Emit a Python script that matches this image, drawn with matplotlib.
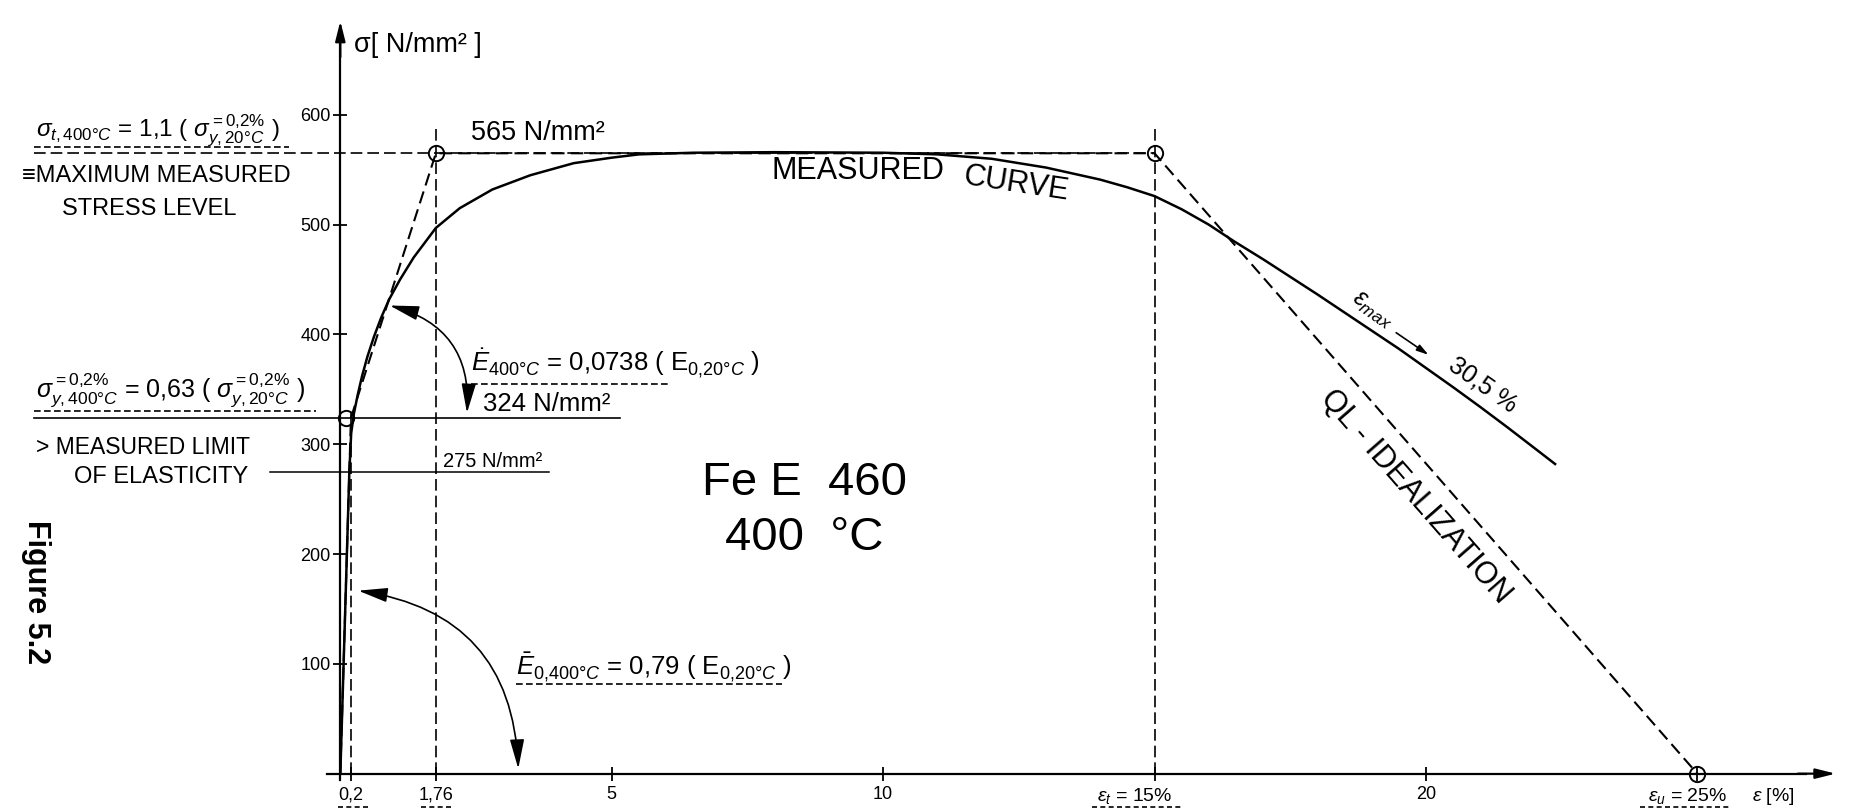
import numpy as np
import matplotlib
matplotlib.use("Agg")
import matplotlib.pyplot as plt
from matplotlib.patches import FancyArrowPatch
from matplotlib.transforms import ScaledTranslation

plt.rcParams['font.family'] = ['Liberation Sans', 'DejaVu Sans']
plt.rcParams['mathtext.fontset'] = 'custom'
plt.rcParams['mathtext.rm'] = 'Liberation Sans'
plt.rcParams['mathtext.it'] = 'Liberation Sans:italic'
plt.rcParams['mathtext.bf'] = 'Liberation Sans:bold'

# Measured stress-strain curve (strain in %, stress in N/mm2)
strain_meas = [0, 0.166, 0.2, 0.25, 0.32, 0.4, 0.5, 0.62, 0.75, 0.9, 1.1, 1.35, 1.76,
               2.2, 2.8, 3.5, 4.3, 5.0, 5.5, 6.5, 8.0, 10.0, 11.0, 12.0, 13.0, 14.0,
               14.5, 15.0, 15.5, 16.0, 16.46, 17.0, 17.5, 18.0, 18.5, 19.0, 19.5,
               20.0, 20.5, 21.0, 21.5, 22.0, 22.38]
stress_meas = [0, 275, 310, 328, 345, 362, 380, 398, 415, 432, 450, 470, 497,
               515, 532, 545, 556, 561, 564, 565.5, 566, 565.5, 564, 560, 552, 541,
               534, 526, 514, 500, 485, 468.5, 452.5, 436.5, 420, 403.5, 387,
               369.5, 352, 334, 315.5, 296.5, 282]

# QL idealization (dashed)
strain_ql = [0, 0.195, 1.76, 15, 25]
stress_ql = [0, 324, 565, 565, 0]

# marked points (open circles)
circle_strain = [0.1, 1.76, 15, 25]
circle_stress = [324, 565, 565, 0]

# dashed vertical reference lines
ref_strain = [0.2, 1.76, 15]
ref_top = [330, 592, 592]

stress_ticks = [100, 200, 300, 400, 500, 600]
strain_ticks = [0.2, 1.76, 5, 10, 15, 20, 25]
strain_ticklabels = ["0,2", "1,76", "5", "10", r"$\epsilon_t$ = 15%", "20", r"$\epsilon_u$ = 25%"]

fig = plt.figure(figsize=(18.52, 8.09), dpi=100)
ax = fig.add_axes([0, 0, 1, 1])
ax.set_xlim(-6.27, 27.85)
ax.set_ylim(-32.2, 704.6)

# axes through the origin
for s in ['top', 'right']:
    ax.spines[s].set_visible(False)
ax.spines['left'].set_position(('data', 0))
ax.spines['bottom'].set_position(('data', 0))
ax.spines['left'].set_bounds(-6, 670)
ax.spines['bottom'].set_bounds(-0.25, 27.0)
ax.spines['left'].set_linewidth(1.6)
ax.spines['bottom'].set_linewidth(1.6)
ax.set_yticks(stress_ticks)
ax.set_xticks(strain_ticks)
ax.set_xticklabels(strain_ticklabels)
ax.tick_params(axis='both', direction='inout', length=10, width=1.3, labelsize=13)
ax.tick_params(axis='y', pad=2)
ax.tick_params(axis='x', pad=4)
# nudge the two strain-limit labels a bit to the left, as in the original
xlabels = ax.get_xticklabels()
for lab, dx in [(xlabels[4], -0.2), (xlabels[6], -0.1)]:
    lab.set_fontsize(14)
    lab.set_transform(lab.get_transform() + ScaledTranslation(dx, 0, fig.dpi_scale_trans))

ax.annotate('', xy=(27.6, 0), xytext=(26.8, 0),
            arrowprops=dict(arrowstyle='-|>,head_length=1.2,head_width=0.3', color='k', lw=1.6))
ax.annotate('', xy=(0, 688), xytext=(0, 650),
            arrowprops=dict(arrowstyle='-|>,head_length=1.2,head_width=0.3', color='k', lw=1.6))

# curves
ax.plot(strain_meas, stress_meas, color='k', lw=1.8, solid_joinstyle='round')
ax.plot(strain_ql, stress_ql, color='k', lw=1.5, ls=(0, (6, 3)))
ax.plot(circle_strain, circle_stress, 'o', ms=11, mfc='none', mec='k', mew=1.4)
for xs, top in zip(ref_strain, ref_top):
    ax.plot([xs, xs], [0, top], color='k', lw=1.2, ls=(0, (7, 3)))

# horizontal reference lines
ax.plot([-5.65, 15], [565, 565], color='k', lw=1.2, ls=(0, (7, 3)))
ax.plot([-5.65, -0.95], [571, 571], color='k', lw=1.2, ls=(0, (4, 2)))
ax.plot([-5.65, 5.15], [324, 324], color='k', lw=1.2)
ax.plot([-5.65, -0.45], [330, 330], color='k', lw=1.2, ls=(0, (4, 2)))
ax.plot([-1.3, 3.85], [275, 275], color='k', lw=1.1)
ax.plot([2.4, 6.05], [355, 355], color='k', lw=1.2, ls=(0, (4, 2)))
ax.plot([3.24, 8.14], [82, 82], color='k', lw=1.2, ls=(0, (4, 2)))

# dashed underlines of special tick labels
for x0, x1 in [(-0.05, 0.52), (1.48, 2.1), (13.85, 15.5), (23.95, 25.6)]:
    ax.plot([x0, x1], [-30, -30], color='k', lw=1.2, ls=(0, (3, 2)), clip_on=False)

# curved dimension arrows
for p1, p2 in [((0.86, 427), (2.33, 326)), ((0.28, 167), (3.28, 2))]:
    arr = FancyArrowPatch(p1, p2, connectionstyle='arc3,rad=-0.42',
                          arrowstyle='<|-|>,head_length=0.9,head_width=0.22',
                          mutation_scale=20, color='k', lw=1.2)
    ax.add_patch(arr)

# texts
ax.text(0.26, 664, "σ[ N/mm² ]", fontsize=19.5, va='center', ha='left')
ax.text(26.0, -21, r"$\epsilon$ [%]", fontsize=14, va='center', ha='left')

ax.text(-5.6, 586, r"$\sigma_{t,400°C}$ = 1,1 ( $\sigma_{y,20°C}^{=0{,}2\%}$ )", fontsize=17.5, va='center')
ax.text(-5.87, 544, "≡MAXIMUM MEASURED", fontsize=17, va='center')
ax.text(-5.13, 514, "STRESS LEVEL", fontsize=17, va='center')
ax.text(-5.6, 349, r"$\sigma_{y,400°C}^{=0{,}2\%}$ = 0,63 ( $\sigma_{y,20°C}^{=0{,}2\%}$ )", fontsize=18, va='center')
ax.text(-5.6, 297, "> MEASURED LIMIT", fontsize=16.5, va='center')
ax.text(-4.9, 270, "OF ELASTICITY", fontsize=17, va='center')

ax.text(2.4, 572, "565 N/mm²", fontsize=19.5, va='bottom')
ax.text(2.62, 330, "324 N/mm²", fontsize=18.5, va='baseline')
ax.text(1.89, 279, "275 N/mm²", fontsize=14.5, va='baseline')
ax.text(2.4, 366, r"$\dot{E}_{400°C}$ = 0,0738 ( E$_{0{,}20°C}$ )", fontsize=18.5, va='baseline')
ax.text(3.24, 90, r"$\bar{E}_{0{,}400°C}$ = 0,79 ( E$_{0{,}20°C}$ )", fontsize=18.5, va='baseline')

ax.text(8.55, 254, "Fe E  460", fontsize=34, ha='center', va='baseline')
ax.text(8.55, 204, "400  °C", fontsize=34, ha='center', va='baseline')

ax.text(-5.61, 165, "Figure 5.2", fontsize=22, fontweight='bold', rotation=-90,
        ha='center', va='center')


def seg_angle(x1, y1, x2, y2):
    p = ax.transData.transform([(x1, y1), (x2, y2)])
    return np.degrees(np.arctan2(p[1, 1] - p[0, 1], p[1, 0] - p[0, 0]))


ax.text(7.95, 549, "MEASURED", fontsize=22, ha='left', va='center')
ax.text(12.45, 537, "CURVE", fontsize=22, ha='center', va='center',
        rotation=seg_angle(11.5, 562, 13.5, 547), rotation_mode='anchor')

ang_ql = seg_angle(15, 565, 25, 0)
ax.text(19.8, 252, "QL - IDEALIZATION", fontsize=22, ha='center', va='center',
        rotation=ang_ql, rotation_mode='anchor')

ang_c = seg_angle(18.5, 420, 21.5, 315.5)
ax.annotate(r"$\epsilon_{max}$", xy=(18.85, 409), xytext=(7, 11), textcoords='offset points',
            fontsize=18, ha='center', va='center', rotation=ang_c, rotation_mode='anchor')
ax.annotate(r"30,5 %", xy=(20.85, 340), xytext=(8, 11), textcoords='offset points',
            fontsize=18, ha='center', va='center', rotation=ang_c, rotation_mode='anchor')
ax.annotate('', xy=(20.09, 380), xytext=(19.41, 403),
            arrowprops=dict(arrowstyle='-|>,head_length=0.7,head_width=0.2', color='k', lw=1.2))

fig.savefig("out.png", dpi=100)
